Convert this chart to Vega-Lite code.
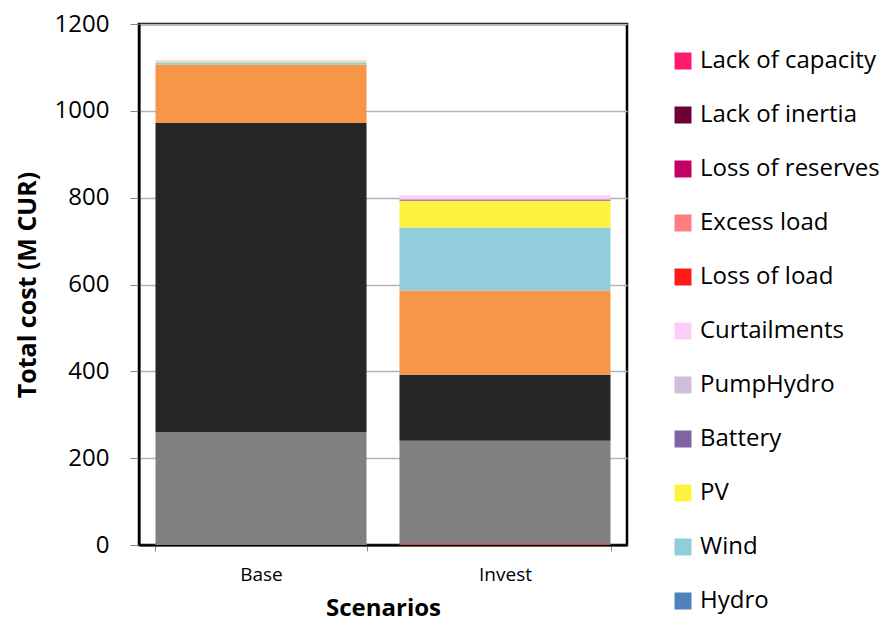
{
  "$schema": "https://vega.github.io/schema/vega-lite/v6.json",
  "width": 488,
  "height": 521,
  "autosize": {"type": "none"},
  "padding": {"left": 139, "top": 24, "right": 265, "bottom": 87},
  "background": "white",
  "data": {
    "values": [
      {"scenario": "Base", "component": "Fixed", "order": 1, "cost": 0},
      {"scenario": "Base", "component": "Thermal", "order": 2, "cost": 260},
      {"scenario": "Base", "component": "Fuel", "order": 3, "cost": 712},
      {"scenario": "Base", "component": "Start-up", "order": 4, "cost": 134},
      {"scenario": "Base", "component": "Hydro", "order": 5, "cost": 0},
      {"scenario": "Base", "component": "Wind", "order": 6, "cost": 6},
      {"scenario": "Base", "component": "PV", "order": 7, "cost": 2},
      {"scenario": "Base", "component": "Battery", "order": 8, "cost": 0},
      {"scenario": "Base", "component": "PumpHydro", "order": 9, "cost": 0},
      {"scenario": "Base", "component": "Curtailments", "order": 10, "cost": 3},
      {"scenario": "Base", "component": "Loss of load", "order": 11, "cost": 0},
      {"scenario": "Base", "component": "Excess load", "order": 12, "cost": 0},
      {"scenario": "Base", "component": "Loss of reserves", "order": 13, "cost": 0},
      {"scenario": "Base", "component": "Lack of inertia", "order": 14, "cost": 0},
      {"scenario": "Base", "component": "Lack of capacity", "order": 15, "cost": 0},
      {"scenario": "Invest", "component": "Fixed", "order": 1, "cost": 4},
      {"scenario": "Invest", "component": "Thermal", "order": 2, "cost": 236},
      {"scenario": "Invest", "component": "Fuel", "order": 3, "cost": 152},
      {"scenario": "Invest", "component": "Start-up", "order": 4, "cost": 194},
      {"scenario": "Invest", "component": "Hydro", "order": 5, "cost": 0},
      {"scenario": "Invest", "component": "Wind", "order": 6, "cost": 145},
      {"scenario": "Invest", "component": "PV", "order": 7, "cost": 62},
      {"scenario": "Invest", "component": "Battery", "order": 8, "cost": 3},
      {"scenario": "Invest", "component": "PumpHydro", "order": 9, "cost": 1},
      {"scenario": "Invest", "component": "Curtailments", "order": 10, "cost": 8},
      {"scenario": "Invest", "component": "Loss of load", "order": 11, "cost": 0},
      {"scenario": "Invest", "component": "Excess load", "order": 12, "cost": 0},
      {"scenario": "Invest", "component": "Loss of reserves", "order": 13, "cost": 0},
      {"scenario": "Invest", "component": "Lack of inertia", "order": 14, "cost": 0},
      {"scenario": "Invest", "component": "Lack of capacity", "order": 15, "cost": 0}
    ]
  },
  "mark": {"type": "bar"},
  "encoding": {
    "x": {
      "field": "scenario",
      "type": "nominal",
      "sort": ["Base", "Invest"],
      "scale": {"paddingInner": 0.135, "paddingOuter": 0.0676},
      "axis": {
        "title": "Scenarios",
        "titleFontSize": 24,
        "titleFontWeight": "bold",
        "titlePadding": 12,
        "labelAngle": 0,
        "labelFontSize": 19,
        "labelPadding": 14,
        "tickBand": "extent",
        "ticks": true,
        "tickSize": 6,
        "tickColor": "#888",
        "domainColor": "#000",
        "domainWidth": 2
      }
    },
    "y": {
      "field": "cost",
      "type": "quantitative",
      "stack": "zero",
      "scale": {"domain": [0, 1200]},
      "axis": {
        "title": "Total cost (M CUR)",
        "titleFontSize": 25,
        "titleFontWeight": "bold",
        "titlePadding": 14,
        "values": [0, 200, 400, 600, 800, 1000, 1200],
        "format": "d",
        "labelFontSize": 24,
        "labelPadding": 21,
        "tickSize": 9,
        "tickColor": "#888",
        "domainColor": "#000",
        "domainWidth": 2,
        "grid": true,
        "gridColor": "#b3b3b3",
        "gridWidth": 1.5
      }
    },
    "order": {"field": "order", "type": "quantitative", "sort": "ascending"},
    "color": {
      "field": "component",
      "type": "nominal",
      "scale": {
        "domain": ["Lack of capacity", "Lack of inertia", "Loss of reserves", "Excess load", "Loss of load", "Curtailments", "PumpHydro", "Battery", "PV", "Wind", "Hydro", "Start-up", "Fuel", "Thermal", "Fixed"],
        "range": ["#FF1A6E", "#6E0033", "#C40066", "#FF7C80", "#FF1A1A", "#FFCCF8", "#CCC0DA", "#8064A2", "#FFF23F", "#92CDDC", "#4F81BD", "#F79646", "#262626", "#808080", "#C0504D"]
      },
      "legend": {
        "title": null,
        "values": ["Lack of capacity", "Lack of inertia", "Loss of reserves", "Excess load", "Loss of load", "Curtailments", "PumpHydro", "Battery", "PV", "Wind", "Hydro"],
        "orient": "none",
        "legendX": 532,
        "legendY": 25,
        "symbolType": "square",
        "symbolSize": 289,
        "symbolStrokeWidth": 0,
        "labelFontSize": 24,
        "labelOffset": 5,
        "rowPadding": 30,
        "labelLimit": 300
      }
    }
  },
  "config": {
    "font": "Open Sans",
    "view": {"stroke": "#000", "strokeWidth": 2.5},
    "axis": {"labelColor": "#000", "titleColor": "#000"},
    "legend": {"labelColor": "#000"}
  }
}
